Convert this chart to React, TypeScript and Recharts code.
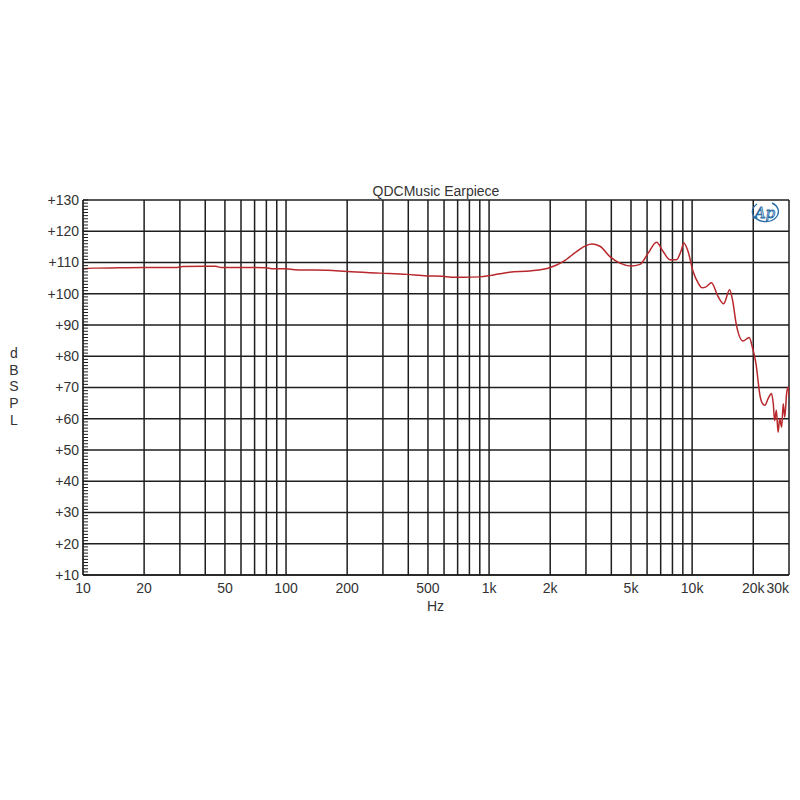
import { LineChart, Line, XAxis, YAxis, CartesianGrid, ReferenceLine } from "recharts";

const freqs = [
  10, 11.2, 15, 20, 29, 31, 40, 45, 48, 60, 80, 85, 100, 110, 130, 160, 200, 290,
  393, 492, 590, 650, 750, 900, 1008, 1130, 1260, 1589, 2000, 2317, 2698, 3000,
  3199, 3515, 3938, 4409, 5000, 5535, 6073, 6677, 7200, 7763, 8375, 8800, 9100,
  9553, 10100, 10700, 11200, 11700, 12450, 13400, 14300, 15300, 15800, 16500,
  17800, 19100, 19800, 20300, 20700, 21100, 21500, 22000, 22800, 23700, 24600,
  25100, 25500, 26000, 26500, 27000, 27600, 28100, 28600, 29200, 29700, 30000,
];

const spl = [
  108.0, 108.2, 108.3, 108.4, 108.4, 108.7, 108.8, 108.8, 108.4, 108.4, 108.3,
  108.0, 108.0, 107.7, 107.6, 107.5, 107.1, 106.6, 106.2, 105.7, 105.6, 105.3,
  105.3, 105.4, 105.8, 106.4, 106.9, 107.3, 108.4, 110.3, 113.5, 115.4, 115.9,
  115.2, 111.9, 109.8, 108.9, 109.4, 113.0, 116.5, 113.5, 110.9, 110.9, 113.5,
  116.2, 113.5, 107.2, 103.5, 101.9, 102.2, 103.5, 99.2, 96.8, 101.3, 98.1, 90.2,
  84.9, 86.0, 82.9, 80.0, 77.0, 72.4, 68.1, 65.4, 64.3, 66.5, 68.1, 64.8, 59.4,
  62.7, 55.7, 60.0, 57.3, 64.8, 60.5, 68.1, 70.2, 67.0,
];

const xTicks = [10, 20, 50, 100, 200, 500, 1000, 2000, 5000, 10000, 20000, 30000];
const gridFreqs = [
  20, 30, 40, 50, 60, 70, 80, 90, 100, 200, 300, 400, 500, 600, 700, 800, 900,
  1000, 2000, 3000, 4000, 5000, 6000, 7000, 8000, 9000, 10000, 20000, 30000,
];
const yTicks = [10, 20, 30, 40, 50, 60, 70, 80, 90, 100, 110, 120, 130];
const yMinorTicks = Array.from({ length: 121 }, (_, i) => 10 + i);

const data = freqs.map((f, i) => ({ f, spl: spl[i] }));

const FONT = "'Liberation Sans', Arial, sans-serif";
const GRID = "#1e1e1e";

function fmtHz(v: number) {
  return v >= 1000 ? `${v / 1000}k` : `${v}`;
}

function XTick(props: any) {
  const { x, y, payload } = props;
  const last = payload.value === 30000;
  return (
    <text
      x={x}
      y={y + 10}
      textAnchor={last ? "end" : "middle"}
      fontSize={14}
      fontFamily={FONT}
      fill="#333"
    >
      {fmtHz(payload.value)}
    </text>
  );
}

export default function App() {
  return (
    <div style={{ position: "relative", width: 800, height: 800, margin: -8, background: "#fff" }}>
      <LineChart
        width={800}
        height={800}
        data={data}
        margin={{ top: 200, right: 11, bottom: 195, left: 0 }}
      >
        <CartesianGrid
          yAxisId="main"
          vertical={false}
          stroke={GRID}
          strokeWidth={1.7}
        />
        <XAxis
          dataKey="f"
          type="number"
          scale="log"
          domain={[10, 30000]}
          allowDataOverflow
          ticks={xTicks}
          interval={0}
          height={30}
          tickLine={false}
          axisLine={{ stroke: GRID, strokeWidth: 1.7 }}
          tick={<XTick />}
        />
        <YAxis
          yAxisId="main"
          type="number"
          domain={[10, 130]}
          ticks={yTicks}
          interval={0}
          width={83}
          tickLine={false}
          tickSize={0}
          tickMargin={4}
          axisLine={{ stroke: GRID, strokeWidth: 1.7 }}
          tickFormatter={(v: number) => `+${v}`}
          tick={{ fontSize: 14, fontFamily: FONT, fill: "#333" }}
        />
        <YAxis
          yAxisId="minor"
          type="number"
          domain={[10, 130]}
          allowDataOverflow
          ticks={yMinorTicks}
          interval={0}
          mirror
          tickSize={5}
          tickFormatter={() => ""}
          axisLine={false}
          tickLine={{ stroke: GRID, strokeWidth: 1 }}
        />
        {gridFreqs.map((g) => (
          <ReferenceLine
            key={g}
            yAxisId="main"
            x={g}
            stroke={GRID}
            strokeWidth={1.5}
            ifOverflow="extendDomain"
          />
        ))}
        <Line
          yAxisId="minor"
          type="monotone"
          dataKey="spl"
          stroke="none"
          dot={false}
          activeDot={false}
          isAnimationActive={false}
        />
        <Line
          yAxisId="main"
          type="monotone"
          dataKey="spl"
          stroke="#b8282c"
          strokeWidth={1.5}
          dot={false}
          activeDot={false}
          isAnimationActive={false}
        />
      </LineChart>

      <div
        style={{
          position: "absolute",
          left: 336,
          width: 200,
          top: 184,
          textAlign: "center",
          fontFamily: FONT,
          fontSize: 14,
          lineHeight: "14px",
          color: "#333",
        }}
      >
        QDCMusic Earpiece
      </div>
      <div
        style={{
          position: "absolute",
          left: 427,
          top: 599,
          fontFamily: FONT,
          fontSize: 14,
          lineHeight: "14px",
          color: "#333",
        }}
      >
        Hz
      </div>
      <div
        style={{
          position: "absolute",
          left: 6,
          width: 16,
          top: 345,
          textAlign: "center",
          fontFamily: FONT,
          fontSize: 14,
          lineHeight: "16.7px",
          color: "#333",
        }}
      >
        {["d", "B", "S", "P", "L"].map((c) => (
          <div key={c}>{c}</div>
        ))}
      </div>
      <svg
        style={{ position: "absolute", left: 750, top: 200 }}
        width={34}
        height={26}
      >
        <path
          d="M 7 4 A 13 10 0 1 0 22 3"
          fill="none"
          stroke="#2c6ea6"
          strokeWidth={1.4}
        />
        <text
          x={15}
          y={18}
          textAnchor="middle"
          fontSize={15}
          fontStyle="italic"
          fontFamily="'DejaVu Serif', serif"
          fill="none"
          stroke="#2c6ea6"
          strokeWidth={0.9}
        >
          Ap
        </text>
      </svg>
    </div>
  );
}
